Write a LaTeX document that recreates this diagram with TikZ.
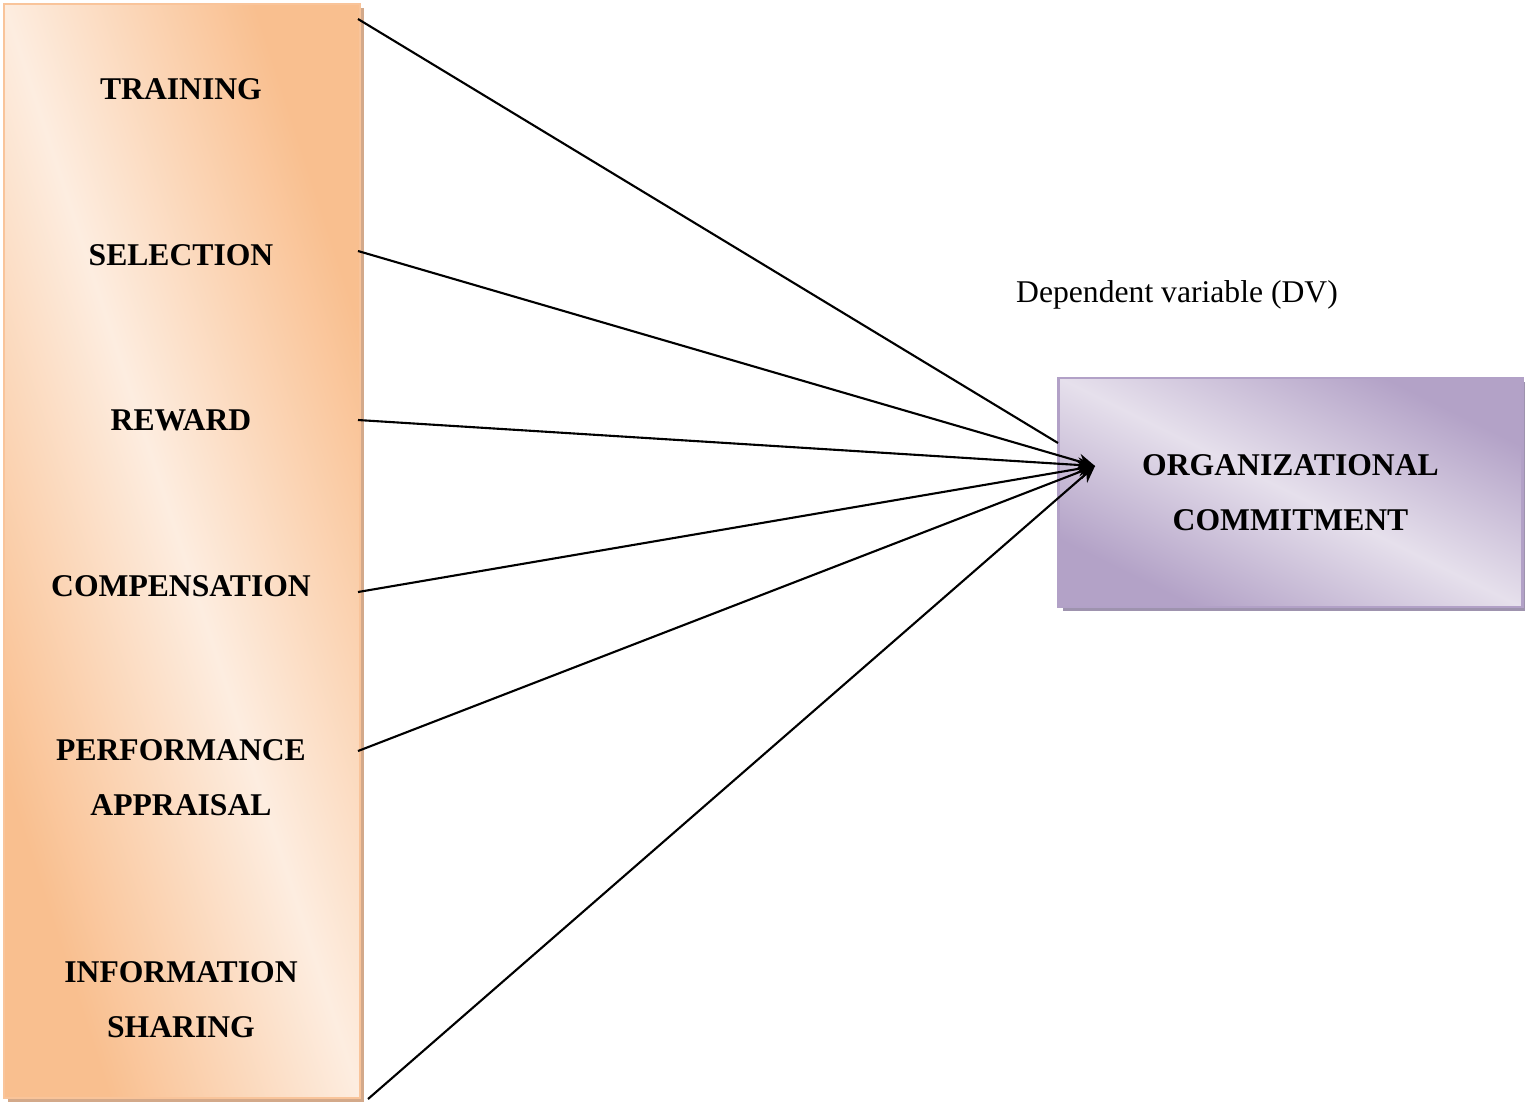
\documentclass[tikz,border=0pt]{standalone}
\usepackage{fontspec}
\setmainfont{Liberation Serif}
\usetikzlibrary{arrows.meta}

\definecolor{peachdark}{HTML}{F9BF8F}
\definecolor{peachlight}{HTML}{FDEDE0}
\definecolor{peachedge}{HTML}{F9C49A}
\definecolor{peachshadow}{HTML}{D3A98A}
\definecolor{lilacdark}{HTML}{B3A2C7}
\definecolor{lilaclight}{HTML}{E6E0EC}
\definecolor{lilacedge}{HTML}{B2A1C7}
\definecolor{lilacshadow}{HTML}{9E93AE}

\begin{document}
\begin{tikzpicture}[x=0.01cm,y=-0.01cm,
  ivshade/.style={top color=peachdark,bottom color=peachdark,middle color=peachlight,shading angle=-45},
  dvshade/.style={top color=lilacdark,bottom color=lilacdark,middle color=lilaclight,shading angle=-45},
  ivbox/.style={draw=peachedge,line width=0.6pt,minimum width=3.56cm,minimum height=10.94cm},
  dvbox/.style={draw=lilacedge,line width=0.8pt,minimum width=4.63cm,minimum height=2.29cm,
    font=\bfseries\fontsize{9}{15.8}\selectfont,align=center},
  ivlabel/.style={font=\bfseries\fontsize{9}{15.6}\selectfont,align=center},
  link/.style={line width=0.6pt},
  arrowlink/.style={link,-{Stealth[length=1.7mm,width=1.5mm]}}]

\useasboundingbox (0,0) rectangle (1525,1105);

% shadows and gradients
\fill[peachshadow] (8,8) rectangle (364,1102);
\shade[ivshade,transform canvas={shift={(4,1098)},xscale=3.56,yscale=10.94}] (0cm,0cm) rectangle (1cm,1cm);
\fill[lilacshadow] (1063,382) rectangle (1526,611);
\shade[dvshade,transform canvas={shift={(1059,607)},xscale=4.63,yscale=2.29}] (0cm,0cm) rectangle (1cm,1cm);

% independent variables
\node[ivbox] (iv) at (182,551) {};
\node[ivlabel] (train) at (181,89) {TRAINING};
\node[ivlabel] (select) at (181,255) {SELECTION};
\node[ivlabel] (reward) at (181,420) {REWARD};
\node[ivlabel] (comp) at (181,586) {COMPENSATION};
\node[ivlabel] (perf) at (181,778) {PERFORMANCE\\APPRAISAL};
\node[ivlabel] (info) at (181,1000) {INFORMATION\\SHARING};

% dependent variable
\node[dvbox] (oc) at (1290.5,492.5) {ORGANIZATIONAL\\COMMITMENT};
\node[font=\fontsize{9}{11}\selectfont] (dv) at (1177,295) {Dependent variable (DV)};

\coordinate (train-out) at (358,19);
\coordinate (select-out) at (358,251);
\coordinate (reward-out) at (358,420);
\coordinate (comp-out) at (358,592);
\coordinate (perf-out) at (358,751);
\coordinate (info-out) at (368,1099);
\coordinate (oc-in) at (1058,443);
\coordinate (tip) at (1095,466);

\draw[link] (train-out) -- (oc-in);
\draw[arrowlink] (select-out) -- (tip);
\draw[arrowlink] (reward-out) -- (tip);
\draw[arrowlink] (comp-out) -- (tip);
\draw[arrowlink] (perf-out) -- (tip);
\draw[arrowlink] (info-out) -- (tip);
\end{tikzpicture}
\end{document}
